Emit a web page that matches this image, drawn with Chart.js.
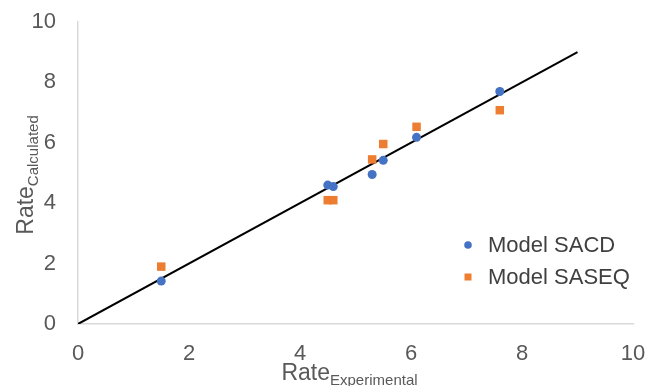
<!DOCTYPE html>
<html>
<head>
<meta charset="utf-8">
<script src="https://cdn.jsdelivr.net/npm/chart.js@4.4.1/dist/chart.umd.min.js"></script>
<style>
  html, body { margin: 0; padding: 0; background: #ffffff; }
  #wrap { position: relative; width: 648px; height: 386px; }
</style>
</head>
<body>
<div id="wrap"><canvas id="c" width="648" height="386"></canvas></div>
<script>
// ---- data ----
const rateExperimental = [1.5, 4.5, 4.6, 5.3, 5.5, 6.1, 7.6];
const sacdCalculated   = [1.42, 4.6, 4.55, 4.95, 5.42, 6.18, 7.7];
const saseqCalculated  = [1.9, 4.1, 4.1, 5.45, 5.96, 6.53, 7.08];
const parityLineX = [0, 9];
const parityLineY = [0, 9];
const seriesNames = ['Model SACD', 'Model SASEQ'];
const xTitleMain = 'Rate', xTitleSub = 'Experimental';
const yTitleMain = 'Rate', yTitleSub = 'Calculated';
const axisMin = 0, axisMax = 10, axisStep = 2;

const BLUE = '#4472C4', ORANGE = '#ED7D31';
const FONT = '"Liberation Sans", Arial, sans-serif';
const TICK_COLOR = '#595959';

const toPts = (xs, ys) => xs.map((x, i) => ({ x: x, y: ys[i] }));

const titlesAndLegend = {
  id: 'titlesAndLegend',
  afterDraw(chart) {
    const ctx = chart.ctx;
    const area = chart.chartArea;
    ctx.save();
    ctx.fillStyle = TICK_COLOR;
    ctx.textBaseline = 'alphabetic';
    ctx.textAlign = 'left';
    // x title
    ctx.font = '23px ' + FONT;
    const wMain = ctx.measureText(xTitleMain).width;
    ctx.font = '15px ' + FONT;
    const wSub = ctx.measureText(xTitleSub).width;
    const cx = (area.left + area.right) / 2 - 6;
    let sx = cx - (wMain + wSub) / 2;
    ctx.font = '23px ' + FONT;
    ctx.fillText(xTitleMain, sx, 380);
    ctx.font = '15px ' + FONT;
    ctx.fillText(xTitleSub, sx + wMain, 385);
    // y title (rotated)
    ctx.font = '23px ' + FONT;
    const yMain = ctx.measureText(yTitleMain).width;
    ctx.font = '15px ' + FONT;
    const ySub = ctx.measureText(yTitleSub).width;
    const cy = (area.top + area.bottom) / 2 + 2;
    ctx.translate(33, cy + (yMain + ySub) / 2);
    ctx.rotate(-Math.PI / 2);
    ctx.font = '23px ' + FONT;
    ctx.fillText(yTitleMain, 0, 0);
    ctx.font = '15px ' + FONT;
    ctx.fillText(yTitleSub, yMain, 5);
    ctx.restore();

    // legend
    ctx.save();
    ctx.font = '22px ' + FONT;
    ctx.textBaseline = 'middle';
    ctx.textAlign = 'left';
    const lx = 468, ly = [245, 277];
    ctx.fillStyle = BLUE;
    ctx.beginPath(); ctx.arc(lx, ly[0], 3.8, 0, Math.PI * 2); ctx.fill();
    ctx.fillStyle = ORANGE;
    ctx.fillRect(lx - 3.5, ly[1] - 3.5, 7, 7);
    ctx.fillStyle = '#404040';
    ctx.fillText(seriesNames[0], 488, ly[0] + 1);
    ctx.fillText(seriesNames[1], 488, ly[1] + 1);
    ctx.restore();
  }
};

new Chart(document.getElementById('c'), {
  type: 'scatter',
  data: {
    datasets: [
      {
        label: 'fit',
        data: toPts(parityLineX, parityLineY),
        showLine: true,
        borderColor: '#000000',
        borderWidth: 2,
        pointRadius: 0,
        fill: false,
        order: 3
      },
      {
        label: seriesNames[0],
        data: toPts(rateExperimental, sacdCalculated),
        backgroundColor: BLUE,
        borderColor: BLUE,
        pointStyle: 'circle',
        pointRadius: 4.5,
        borderWidth: 0,
        order: 2
      },
      {
        label: seriesNames[1],
        data: toPts(rateExperimental, saseqCalculated),
        backgroundColor: ORANGE,
        borderColor: ORANGE,
        pointStyle: 'rect',
        pointRadius: 6,
        borderWidth: 0,
        order: 1
      }
    ]
  },
  options: {
    responsive: false,
    animation: false,
    devicePixelRatio: 1,
    layout: { padding: { top: 22, right: 15, left: 0, bottom: 0 } },
    plugins: { legend: { display: false }, tooltip: { enabled: false } },
    scales: {
      x: {
        type: 'linear',
        min: axisMin, max: axisMax,
        grid: { display: false },
        border: { display: true, color: '#d9d9d9', width: 1.5 },
        ticks: { stepSize: axisStep, color: TICK_COLOR, font: { size: 22, family: FONT }, padding: 9, maxRotation: 0 },
        afterFit(s) { s.height = 62; s.paddingLeft = 0; s.paddingRight = 0; }
      },
      y: {
        type: 'linear',
        min: axisMin, max: axisMax,
        grid: { display: false },
        border: { display: true, color: '#d9d9d9', width: 1.5 },
        ticks: { stepSize: axisStep, color: TICK_COLOR, font: { size: 22, family: FONT }, padding: 14 },
        afterFit(s) { s.width = 78; s.paddingTop = 0; s.paddingBottom = 0; }
      }
    }
  },
  plugins: [titlesAndLegend]
});
</script>
</body>
</html>
